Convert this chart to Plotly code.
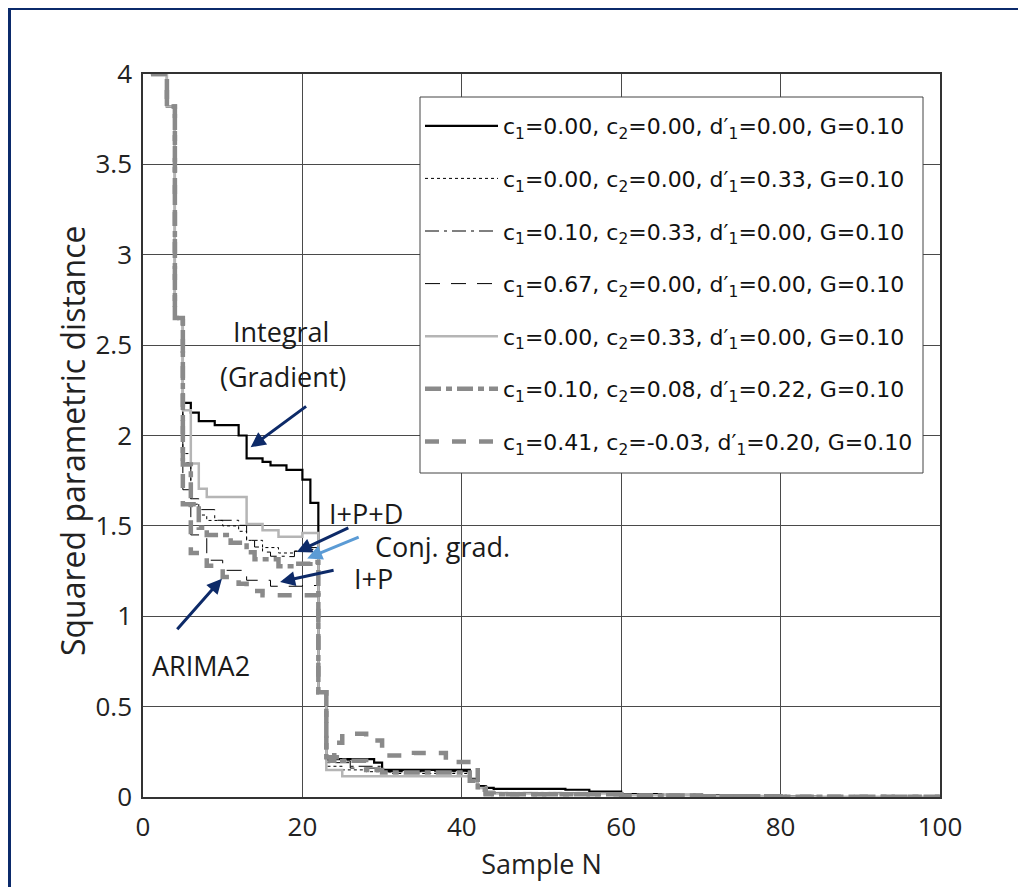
import plotly.graph_objects as go

# ---- data (step points: sample index N where the value changes, value held until next N) ----
N_integral = [1, 3, 4, 5, 6, 7, 9, 12, 13, 15, 16, 18, 20, 21, 22, 23, 29, 30, 41, 42, 43, 44, 53, 56, 60, 65, 70, 75, 80, 85, 100]
V_integral = [4.0, 3.82, 2.65, 2.18, 2.127, 2.08, 2.057, 2.0, 1.873, 1.854, 1.835, 1.81, 1.756, 1.627, 0.58, 0.21, 0.19, 0.15, 0.10, 0.06, 0.05, 0.045, 0.04, 0.03, 0.016, 0.012, 0.009, 0.005, 0.002, 0.0, 0.0]

N_dotted = [1, 3, 4, 5, 6, 7, 8, 10, 12, 13, 15, 17, 19, 21, 22, 23, 25, 28, 31, 41, 42, 43, 44, 60, 70, 80, 100]
V_dotted = [4.0, 3.82, 2.65, 1.9, 1.62, 1.56, 1.53, 1.50, 1.47, 1.42, 1.38, 1.35, 1.36, 1.37, 0.58, 0.17, 0.15, 0.14, 0.13, 0.09, 0.05, 0.03, 0.025, 0.012, 0.006, 0.002, 0.0]

N_ipd = [1, 3, 4, 5, 6, 7, 9, 12, 13, 14, 15, 16, 18, 19, 21, 22, 23, 26, 30, 41, 42, 43, 44, 60, 70, 80, 100]
V_ipd = [4.0, 3.82, 2.65, 1.85, 1.65, 1.59, 1.531, 1.503, 1.42, 1.383, 1.355, 1.332, 1.33, 1.36, 1.38, 0.58, 0.19, 0.17, 0.14, 0.10, 0.05, 0.03, 0.025, 0.012, 0.006, 0.002, 0.0]

N_ip = [1, 3, 4, 5, 6, 8, 10, 13, 16, 20, 22, 23, 26, 30, 41, 42, 43, 44, 60, 70, 80, 100]
V_ip = [4.0, 3.82, 2.65, 1.7, 1.45, 1.31, 1.254, 1.199, 1.166, 1.17, 0.58, 0.2, 0.16, 0.14, 0.10, 0.05, 0.03, 0.025, 0.012, 0.006, 0.002, 0.0]

N_c2 = [1, 3, 4, 5, 6, 7, 8, 13, 15, 17, 20, 22, 23, 25, 41, 42, 43, 44, 60, 70, 80, 100]
V_c2 = [4.0, 3.82, 2.65, 2.14, 1.845, 1.706, 1.66, 1.51, 1.476, 1.44, 1.46, 0.58, 0.15, 0.115, 0.09, 0.05, 0.03, 0.02, 0.01, 0.005, 0.002, 0.0]

N_conj = [1, 3, 4, 5, 6, 7, 8, 11, 13, 14, 17, 19, 21, 22, 23, 25, 28, 30, 41, 42, 43, 44, 60, 70, 80, 100]
V_conj = [4.0, 3.82, 2.65, 1.84, 1.62, 1.49, 1.45, 1.406, 1.354, 1.315, 1.276, 1.29, 1.30, 0.58, 0.22, 0.20, 0.15, 0.135, 0.09, 0.04, 0.02, 0.015, 0.008, 0.004, 0.001, 0.0]

N_arima = [1, 3, 4, 5, 6, 8, 10, 12, 13, 15, 22, 23, 24, 25, 28, 30, 34, 38, 42, 43, 60, 70, 80, 100]
V_arima = [4.0, 3.82, 2.65, 1.62, 1.35, 1.28, 1.217, 1.18, 1.14, 1.116, 0.58, 0.2, 0.30, 0.35, 0.313, 0.23, 0.244, 0.193, 0.05, 0.015, 0.008, 0.004, 0.001, 0.0]

legend_labels = [
    "c<sub>1</sub>=0.00, c<sub>2</sub>=0.00, d′<sub>1</sub>=0.00, G=0.10",
    "c<sub>1</sub>=0.00, c<sub>2</sub>=0.00, d′<sub>1</sub>=0.33, G=0.10",
    "c<sub>1</sub>=0.10, c<sub>2</sub>=0.33, d′<sub>1</sub>=0.00, G=0.10",
    "c<sub>1</sub>=0.67, c<sub>2</sub>=0.00, d′<sub>1</sub>=0.00, G=0.10",
    "c<sub>1</sub>=0.00, c<sub>2</sub>=0.33, d′<sub>1</sub>=0.00, G=0.10",
    "c<sub>1</sub>=0.10, c<sub>2</sub>=0.08, d′<sub>1</sub>=0.22, G=0.10",
    "c<sub>1</sub>=0.41, c<sub>2</sub>=-0.03, d′<sub>1</sub>=0.20, G=0.10",
]

x_ticks = [0, 20, 40, 60, 80, 100]
y_ticks = [0, 0.5, 1, 1.5, 2, 2.5, 3, 3.5, 4]

series = [
    (N_integral, V_integral, dict(color="black", width=2.2)),
    (N_dotted, V_dotted, dict(color="black", width=1, dash="dot")),
    (N_ipd, V_ipd, dict(color="black", width=1, dash="14px,5px,3px,5px")),
    (N_ip, V_ip, dict(color="black", width=1, dash="15px,11px")),
    (N_c2, V_c2, dict(color="#b5b5b5", width=2.5)),
    (N_conj, V_conj, dict(color="#8a8a8a", width=4.5, dash="16px,5px,6px,5px")),
    (N_arima, V_arima, dict(color="#8a8a8a", width=4.5, dash="14px,13px")),
]

fig = go.Figure()
for i, (xs, ys, ln) in enumerate(series):
    fig.add_trace(go.Scatter(
        x=xs, y=ys, mode="lines", line=dict(shape="hv", **ln),
        name=legend_labels[i], legendgroup=f"g{i}",
    ))

# page has an 8px body margin: figure origin sits at page (8, 8)
OFF = 8
W, H = 1010, 879
ML, MT = 135, 66
PW, PH = 797, 723
MR, MB = W - ML - PW, H - MT - PH


def px2paper(px, py):
    """page pixel -> paper coords"""
    fx, fy = px - OFF, py - OFF
    return (fx - ML) / PW, (MT + PH - fy) / PH


ann_font = dict(family="Open Sans", size=27, color="#1a1a1a")
navy = "#0d2a68"

annotations = []
# y-axis title
tx_, ty_ = px2paper(72, 441)
annotations.append(dict(text="Squared parametric distance", x=tx_, y=ty_, xref="paper", yref="paper",
                        showarrow=False, textangle=-90, xanchor="center", yanchor="middle",
                        font=dict(family="Open Sans", size=32, color="#222")))
for txt, cx, cy in [("Integral", 281, 332), ("(Gradient)", 283, 377)]:
    xp, yp = px2paper(cx, cy)
    annotations.append(dict(text=txt, x=xp, y=yp, xref="paper", yref="paper",
                            showarrow=False, font=ann_font, xanchor="center", yanchor="middle"))
for txt, lx, cy in [("I+P+D", 327, 513), ("Conj. grad.", 373, 546), ("I+P", 352, 578), ("ARIMA2", 150, 665)]:
    xp, yp = px2paper(lx, cy)
    annotations.append(dict(text=txt, x=xp, y=yp, xref="paper", yref="paper",
                            showarrow=False, font=ann_font, xanchor="left", yanchor="middle"))
for (tx, ty, ax, ay, col) in [
    (13.5, 1.935, 57, -42, navy),
    (19.3, 1.355, 53, -25, navy),
    (20.6, 1.32, 53, -22, "#5b9bd5"),
    (17.2, 1.19, 55, -12, navy),
    (9.9, 1.208, -46, 52, navy),
]:
    annotations.append(dict(x=tx, y=ty, xref="x", yref="y", ax=ax, ay=ay, text="",
                            showarrow=True, arrowhead=2, arrowsize=1.0, arrowwidth=3,
                            arrowcolor=col))

# navy frame round the figure (left and top edges visible)
fx0, fy0 = (1.5 - ML) / PW, (MT + PH - 0.5) / PH
fx1, fy1 = (W + 30 - ML) / PW, (MT + PH - (H + 30)) / PH

# legend box drawn as a shape, entries placed inside it
bx0, by0 = px2paper(420, 97)
bx1, by1 = px2paper(923, 473)
lx, ly = px2paper(420, 105)

fig.update_layout(
    width=W, height=H,
    margin=dict(l=ML, r=MR, t=MT, b=MB, pad=0),
    paper_bgcolor="white", plot_bgcolor="white",
    font=dict(family="Open Sans", size=24, color="#222"),
    xaxis=dict(range=[0, 100], tickvals=x_ticks, showgrid=True, gridcolor="#4a4a4a", gridwidth=1,
               zeroline=False, showline=True, mirror=True, linecolor="#333", linewidth=1.5,
               ticks="", ticklabelstandoff=6,
               title=dict(text="Sample N", font=dict(size=27), standoff=12),
               tickfont=dict(size=26)),
    yaxis=dict(range=[0, 4], tickvals=y_ticks, showgrid=True, gridcolor="#4a4a4a", gridwidth=1,
               zeroline=False, showline=True, mirror=True, linecolor="#333", linewidth=1.5,
               ticks="", ticklabelstandoff=4,
               tickfont=dict(size=26)),
    legend=dict(x=lx, y=ly, xanchor="left", yanchor="top",
                bgcolor="rgba(0,0,0,0)", borderwidth=0,
                font=dict(family="DejaVu Sans", size=22, color="#111"),
                tracegroupgap=21, itemwidth=73),
    annotations=annotations,
    shapes=[
        dict(type="rect", xref="paper", yref="paper", x0=bx0, y0=by1, x1=bx1, y1=by0,
             line=dict(color="#444", width=1), fillcolor="white", layer="above"),
        dict(type="rect", xref="paper", yref="paper", x0=fx0, y0=fy1, x1=fx1, y1=fy0,
             line=dict(color="#0b2a6b", width=3), layer="above"),
    ],
)

fig.write_html("out.html")
